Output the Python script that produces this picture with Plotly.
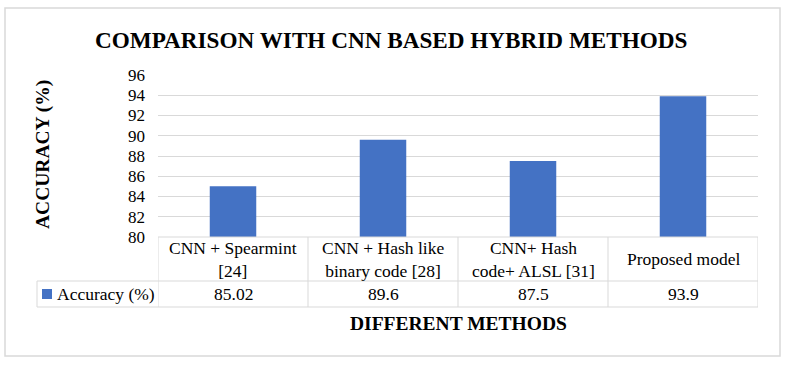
import plotly.graph_objects as go

title = "COMPARISON WITH CNN BASED HYBRID METHODS"
categories = ["CNN + Spearmint<br>[24]", "CNN + Hash like<br>binary code [28]",
              "CNN+ Hash<br>code+ ALSL [31]", "Proposed model"]
values = [85.02, 89.6, 87.5, 93.9]
value_labels = ["85.02", "89.6", "87.5", "93.9"]
series_name = "Accuracy (%)"
y_ticks = [80, 82, 84, 86, 88, 90, 92, 94, 96]
x_title = "DIFFERENT METHODS"
y_title = "ACCURACY (%)"

BAR = "#4472C4"
GRID = "#D9D9D9"
FONT = "Times New Roman, Liberation Serif, serif"
TS = 17.5

W, H = 786, 366
L, R, T, B = 158, 28, 75, 129
PW, PH = W - L - R, H - T - B


def px(x):
    return (x - L) / PW


def py(y):
    return (H - B - y) / PH


xs = list(range(len(categories)))
fig = go.Figure()
fig.add_trace(go.Bar(x=xs, y=values, marker=dict(color=BAR, line=dict(width=0)),
                     width=0.31, name=series_name, showlegend=False,
                     hoverinfo="y"))

shapes = []
# outer border
shapes.append(dict(type="rect", xref="paper", yref="paper", x0=px(5), x1=px(780),
                   y0=py(356), y1=py(8), line=dict(color="#D9D9D9", width=1.5),
                   layer="below"))
line_style = dict(color=GRID, width=1)
y_top, y_mid, y_bot = py(237), py(281), py(307)
n = len(categories)
# horizontal table lines
shapes.append(dict(type="line", xref="x", yref="paper", x0=-0.5, x1=n - 0.5,
                   y0=y_top, y1=y_top, line=line_style))
shapes.append(dict(type="line", xref="paper", yref="paper", x0=px(37), x1=1,
                   y0=y_mid, y1=y_mid, line=line_style))
shapes.append(dict(type="line", xref="paper", yref="paper", x0=px(37), x1=1,
                   y0=y_bot, y1=y_bot, line=line_style))
# vertical table lines
for i in range(n + 1):
    shapes.append(dict(type="line", xref="x", yref="paper", x0=i - 0.5, x1=i - 0.5,
                       y0=y_bot, y1=y_top, line=line_style))
shapes.append(dict(type="line", xref="paper", yref="paper", x0=px(37), x1=px(37),
                   y0=y_bot, y1=y_mid, line=line_style))
# legend key
shapes.append(dict(type="rect", xref="paper", yref="paper", x0=px(42), x1=px(52),
                   y0=py(299), y1=py(289), fillcolor=BAR, line=dict(width=0)))

annotations = []
for i, c in enumerate(categories):
    annotations.append(dict(x=i, xref="x", y=py(259), yref="paper", text=c,
                            showarrow=False, font=dict(family=FONT, size=TS, color="#000"),
                            xanchor="center", yanchor="middle"))
for i, v in enumerate(value_labels):
    annotations.append(dict(x=i, xref="x", y=py(294), yref="paper", text=v,
                            showarrow=False, font=dict(family=FONT, size=TS, color="#000"),
                            xanchor="center", yanchor="middle"))
annotations.append(dict(x=px(55), xref="paper", y=py(294), yref="paper", text=series_name,
                        showarrow=False, font=dict(family=FONT, size=TS, color="#000"),
                        xanchor="left", yanchor="middle"))
annotations.append(dict(x=px(391), xref="paper", y=py(40), yref="paper", text="<b>" + title + "</b>",
                        showarrow=False, font=dict(family=FONT, size=23.2, color="#000"),
                        xanchor="center", yanchor="middle"))
annotations.append(dict(x=px(43), xref="paper", y=py(154), yref="paper", text="<b>" + y_title + "</b>",
                        showarrow=False, textangle=-90, font=dict(family=FONT, size=19.5, color="#000"),
                        xanchor="center", yanchor="middle"))
annotations.append(dict(x=0.5, xref="paper", y=py(323), yref="paper", text="<b>" + x_title + "</b>",
                        showarrow=False, font=dict(family=FONT, size=19.5, color="#000"),
                        xanchor="center", yanchor="middle"))

fig.update_layout(
    width=W, height=H,
    margin=dict(l=L, r=R, t=T, b=B, pad=0),
    paper_bgcolor="white", plot_bgcolor="white",
    shapes=shapes, annotations=annotations,
    font=dict(family=FONT, color="#000"),
    xaxis=dict(range=[-0.5, n - 0.5], showticklabels=False, showgrid=False,
               zeroline=False, showline=False, ticks="", fixedrange=True),
    yaxis=dict(range=[80, 96], tickvals=y_ticks, showgrid=True, gridcolor=GRID,
               gridwidth=1, zeroline=False, showline=False, ticks="",
               tickfont=dict(family=FONT, size=17, color="#000"),
               ticklabelstandoff=12, fixedrange=True),
    bargap=0.69,
)

fig.write_html("out.html", config={"displayModeBar": False},
               post_script="document.body.style.margin='0px';")
